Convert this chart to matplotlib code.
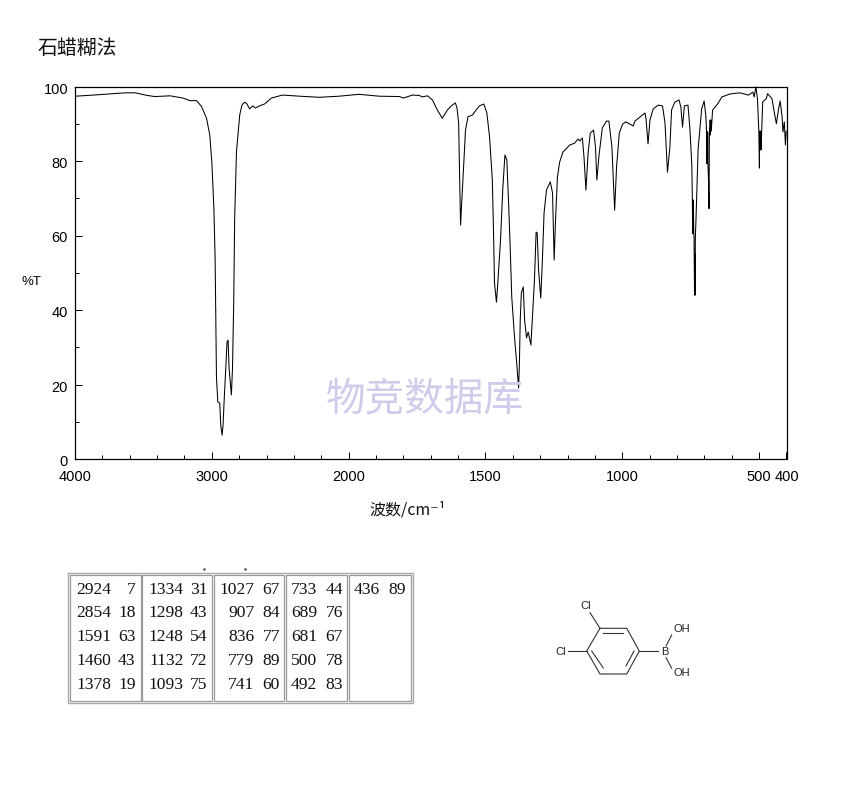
import numpy as np
import matplotlib
matplotlib.use("Agg")
import matplotlib.pyplot as plt
from matplotlib.patches import Rectangle
from matplotlib.transforms import ScaledTranslation

plt.rcParams['path.simplify'] = False
cjk = ['Noto Sans CJK SC', 'DejaVu Sans']

# spectrum
wavenumber = [3996, 3865, 3633, 3560, 3473, 3415, 3305, 3211, 3160, 3111, 3075, 3039, 3015, 3000, 2985, 2976,
              2971, 2966, 2956, 2942, 2935, 2925, 2918, 2908, 2898, 2889, 2881, 2874, 2857, 2849, 2840, 2833,
              2820, 2796, 2780, 2760, 2743, 2724, 2700, 2682, 2651, 2615, 2564, 2484, 2360, 2215, 2069,
              1962, 1889, 1815, 1800, 1767, 1742, 1731, 1712, 1694, 1676, 1658, 1639, 1625, 1610, 1604, 1598,
              1595, 1591, 1587, 1580, 1573, 1564, 1548, 1534, 1522, 1506, 1495, 1485, 1475, 1471, 1467, 1460,
              1455, 1445, 1437, 1429, 1422, 1415, 1409, 1404, 1394, 1386, 1379, 1376, 1373, 1369, 1362, 1357,
              1350, 1344, 1334, 1327, 1321, 1315, 1311, 1306, 1298, 1292, 1286, 1277, 1263, 1255, 1249, 1244,
              1237, 1229, 1217, 1192, 1174, 1162, 1155, 1146, 1140, 1133, 1125, 1117, 1105, 1098, 1093, 1085,
              1073, 1058, 1049, 1038, 1028, 1021, 1011, 999, 987, 972, 960, 954, 917, 913, 906, 899,
              887, 869, 853, 844, 835, 826, 820, 808, 793, 786, 780, 773, 760, 753, 746,
              744, 743, 742, 741, 740, 739, 738, 736, 735, 734, 733, 731, 723, 710, 701,
              695, 692, 691, 690, 689, 688, 687, 685, 683, 682, 681, 680, 679, 678, 677, 675,
              670, 652, 636, 606, 570, 539, 523, 518, 512, 506,
              501, 499, 498, 497, 496, 495, 494, 493, 487, 474, 469, 453, 445, 437, 429, 423, 416, 413, 408, 404, 401]
transmittance = [97.4, 97.7, 98.3, 98.3, 97.6, 97.3, 97.5, 96.9, 96.2, 96.2, 94.6, 91.5, 87.0, 79.7, 67.4, 54.0,
                 37.9, 21.7, 15.3, 15.0, 9.1, 6.4, 9.1, 17.2, 24.4, 31.4, 31.9, 24.4, 17.2, 24.4, 42.1, 64.7,
                 82.4, 92.4, 95.0, 95.8, 95.3, 94.0, 94.8, 94.2, 94.8, 95.3, 96.9, 97.7, 97.4, 97.1, 97.4,
                 97.9, 97.4, 97.3, 96.9, 97.7, 97.6, 97.2, 97.5, 96.4, 93.7, 91.5, 93.7, 94.8, 95.6, 94.2, 90.2,
                 77.6, 62.8, 68.7, 78.4, 88.3, 91.9, 92.3, 93.7, 94.8, 95.3, 92.9, 86.4, 74.9, 62.3, 47.2, 42.1,
                 47.2, 58.8, 72.2, 81.6, 80.3, 67.7, 55.3, 43.5, 32.8, 25.8, 19.1, 25.8, 37.3, 44.6, 46.2, 37.3,
                 32.5, 34.1, 30.6, 40.0, 48.1, 60.9, 60.7, 50.7, 43.2, 53.4, 66.0, 72.2, 74.4, 71.4, 53.4, 64.2,
                 75.7, 79.7, 82.4, 84.3, 84.8, 85.9, 85.4, 86.2, 81.1, 72.2, 82.1, 87.5, 88.3, 83.8, 74.9, 81.6,
                 88.9, 90.7, 90.7, 83.8, 66.8, 78.4, 87.5, 89.9, 90.5, 89.9, 89.4, 90.7, 92.9, 91.0, 84.6, 91.0,
                 94.0, 95.0, 94.8, 90.2, 77.0, 83.8, 93.7, 95.8, 96.4, 94.5, 89.1, 94.8, 95.0, 88.7, 78.9,
                 69.5, 60.5, 69.5, 60.5, 69.5, 60.5, 60.0, 44.0, 55.0, 44.0, 60.0, 63.6, 83.2, 94.0, 96.1,
                 92.3, 87.8, 79.3, 87.8, 79.3, 87.8, 79.0, 75.0, 67.2, 86.0, 89.0, 87.0, 91.0, 87.0, 91.0, 88.0,
                 93.7, 95.3, 97.2, 98.0, 98.3, 97.7, 98.5, 97.2, 99.9, 96.7,
                 87.8, 78.1, 88.0, 83.0, 88.0, 83.0, 88.0, 83.0, 95.9, 96.7, 98.1, 96.7, 93.2, 90.0, 94.0, 96.1, 91.8, 87.8, 90.5, 84.3, 88.0]

x_major = [4000, 3000, 2000, 1500, 1000, 500, 400]
x_minor = [3800, 3600, 3400, 3200, 2800, 2600, 2400, 2200, 1900, 1800, 1700, 1600, 1400, 1300, 1200, 1100,
           900, 800, 700, 600]
y_major = [0, 20, 40, 60, 80, 100]
y_minor = [10, 30, 50, 70, 90]

# peak table, one list per column of the table
peak_wn_1 = [2924, 2854, 1591, 1460, 1378]
peak_t_1 = [7, 18, 63, 43, 19]
peak_wn_2 = [1334, 1298, 1248, 1132, 1093]
peak_t_2 = [31, 43, 54, 72, 75]
peak_wn_3 = [1027, 907, 836, 779, 741]
peak_t_3 = [67, 84, 77, 89, 60]
peak_wn_4 = [733, 689, 681, 500, 492]
peak_t_4 = [44, 76, 67, 78, 83]
peak_wn_5 = [436]
peak_t_5 = [89]


def fwd(w):
    w = np.asarray(w, dtype=float)
    return np.where(w >= 2000, w / 2 + 1000, w)


def inv(p):
    p = np.asarray(p, dtype=float)
    return np.where(p >= 2000, (p - 1000) * 2, p)


W, H = 850, 794
fig = plt.figure(figsize=(W / 100, H / 100), dpi=100, facecolor='white')
ax = fig.add_axes([75 / W, (H - 459) / H, 711.5 / W, 372.5 / H])
ax.set_xscale('function', functions=(fwd, inv))
ax.set_xlim(4000, 400)
ax.set_ylim(0, 100)
ax.plot(wavenumber, transmittance, color='black', lw=0.75, clip_on=False, zorder=2)

ax.set_xticks(x_major)
ax.set_xticklabels([str(v) for v in x_major])
ax.set_xticks(x_minor, minor=True)
ax.set_yticks(y_major)
ax.set_yticks(y_minor, minor=True)
ax.tick_params(which='major', direction='in', length=5.2, width=0.72, labelsize=10.5, pad=8)
ax.tick_params(axis='y', which='major', pad=5)
ax.tick_params(which='minor', direction='in', length=2.6, width=0.72)
for s in ax.spines.values():
    s.set_linewidth(0.9)
for lab in ax.get_xticklabels() + ax.get_yticklabels():
    lab.set_family('Liberation Sans')
for lab in ax.get_yticklabels():
    lab.set_transform(lab.get_transform() + ScaledTranslation(0, -0.015, fig.dpi_scale_trans))

# everything outside the plot, in picture pixels
ov = fig.add_axes([0, 0, 1, 1], zorder=5)
ov.set_xlim(0, W)
ov.set_ylim(H, 0)
ov.axis('off')
ov.patch.set_alpha(0)

ov.text(37, 48, '石蜡糊法', family=cjk, fontsize=14.3, va='center', ha='left', color='#111111')
ov.text(22, 282, '%T', family='Liberation Sans', fontsize=9.5, va='center', ha='left')
ov.text(369, 510, '波数/cm⁻¹', family=cjk, fontsize=11.5, va='center', ha='left', color='#111111')
ov.text(425, 399, '物竞数据库', family=cjk, fontsize=28.5, va='center', ha='center', color='#cdcdeb')

# table frame
ov.add_patch(Rectangle((68, 572.5), 345, 130.5, fc='white', ec='#a8a8a8', lw=1.0))
columns = [(70, 140.7, 111, 135.5, peak_wn_1, peak_t_1),
           (142.3, 212.3, 183.5, 207.5, peak_wn_2, peak_t_2),
           (214.3, 284.3, 254.5, 280, peak_wn_3, peak_t_3),
           (286.3, 347.3, 317, 343, peak_wn_4, peak_t_4),
           (349.3, 410.7, 380, 405.5, peak_wn_5, peak_t_5)]
row_y = [590, 613.3, 637, 660.7, 684.7]
for x0, x1, xw, xt, wns, ts in columns:
    ov.add_patch(Rectangle((x0, 574.7), x1 - x0, 126, fc='white', ec='#9a9a9a', lw=0.9))
    for y, a, b in zip(row_y, wns, ts):
        ov.text(xw, y, str(a), family='Liberation Serif', fontsize=12.6, ha='right', va='center', color='#111111')
        ov.text(xt, y, str(b), family='Liberation Serif', fontsize=12.6, ha='right', va='center', color='#111111')
ov.plot([204, 245.5], [568.5, 568.5], ls='none', marker='s', ms=0.8, color='#555555')

# molecule
ring_x = [600, 626.7, 639.3, 626.7, 600, 586.7, 600]
ring_y = [628.3, 628.3, 651, 674, 674, 651, 628.3]
ov.plot(ring_x, ring_y, color='#333333', lw=0.8)
bonds = [((603.3, 633.3), (623.3, 633.3)), ((634, 651), (626, 666)), ((591.7, 651), (603.3, 668)),
         ((600, 628.3), (590, 612.7)), ((586.7, 651), (568.3, 651)), ((639.3, 651), (658.3, 651)),
         ((666, 646), (671.7, 635)), ((666, 657.7), (671.7, 668.3))]
for a, b in bonds:
    ov.plot([a[0], b[0]], [a[1], b[1]], color='#333333', lw=0.8)
for tx, ty, s in [(585.7, 606, 'Cl'), (560.7, 652, 'Cl'), (664.5, 652, 'B'), (681.7, 629, 'OH'), (681.7, 673.5, 'OH')]:
    ov.text(tx, ty, s, family='Liberation Sans', fontsize=8, ha='center', va='center', color='#222222')

fig.savefig('out.png', dpi=100)
